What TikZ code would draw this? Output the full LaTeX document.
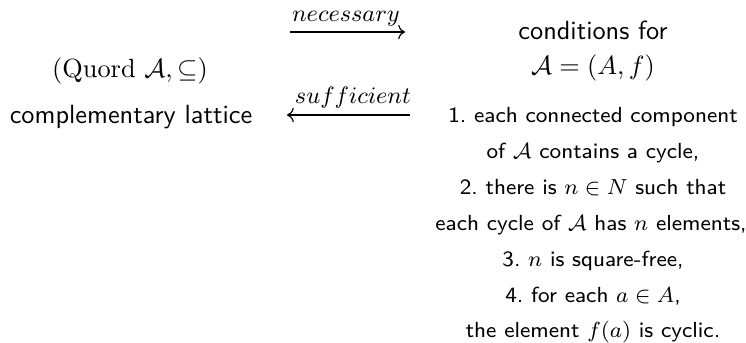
\RequirePackage{fix-cm}
\documentclass[tikz,border=0pt]{standalone}
\usepackage{fontspec}
\usetikzlibrary{arrows.meta}
\begin{document}
\begin{tikzpicture}[x=0.38pt,y=-0.38pt,
  bigtxt/.style={anchor=base,inner sep=0pt,font=\sffamily},
  listtxt/.style={anchor=base,inner sep=0pt,font=\sffamily\fontsize{8.3}{10}\selectfont},
  lbl/.style={anchor=base,inner sep=0pt},
  arrlbl/.style={anchor=base,inner sep=0pt,font=\fontsize{9}{10}\selectfont},
  impl/.style={line width=0.45pt,-{Computer Modern Rightarrow}}]
\useasboundingbox (0,0) rectangle (746,343);
% left column
\node[lbl] (quord) at (130,78) {$(\mathrm{Quord}\ \mathcal{A},\subseteq)$};
\node[bigtxt] (compl) at (131,124) {complementary lattice};
% right column
\node[bigtxt] (cond) at (593,40) {conditions for};
\node[lbl] (alg) at (593,75) {$\mathcal{A}=(A,f)$};
\node[listtxt] (c1) at (593,123) {1.\ each connected component};
\node[listtxt] (c2) at (593,159) {of $\mathcal{A}$ contains a cycle,};
\node[listtxt] (c3) at (593,195) {2.\ there is $n\in N$ such that};
\node[listtxt] (c4) at (591,231) {each cycle of $\mathcal{A}$ has $n$ elements,};
\node[listtxt] (c5) at (593,267) {3.\ $n$ is square-free,};
\node[listtxt] (c6) at (593,303) {4.\ for each $a\in A$,};
\node[listtxt] (c7) at (593,338) {the element $f(a)$ is cyclic.};
% arrows
\coordinate (nA) at (290,32);
\coordinate (nB) at (405,32);
\coordinate (sA) at (410,115);
\coordinate (sB) at (287,115);
\draw[impl] (nA) -- (nB);
\draw[impl] (sA) -- (sB);
\node[arrlbl] (nec) at (346,22) {$necessary$};
\node[arrlbl] (suf) at (353,104) {$sufficient$};
\end{tikzpicture}
\end{document}
